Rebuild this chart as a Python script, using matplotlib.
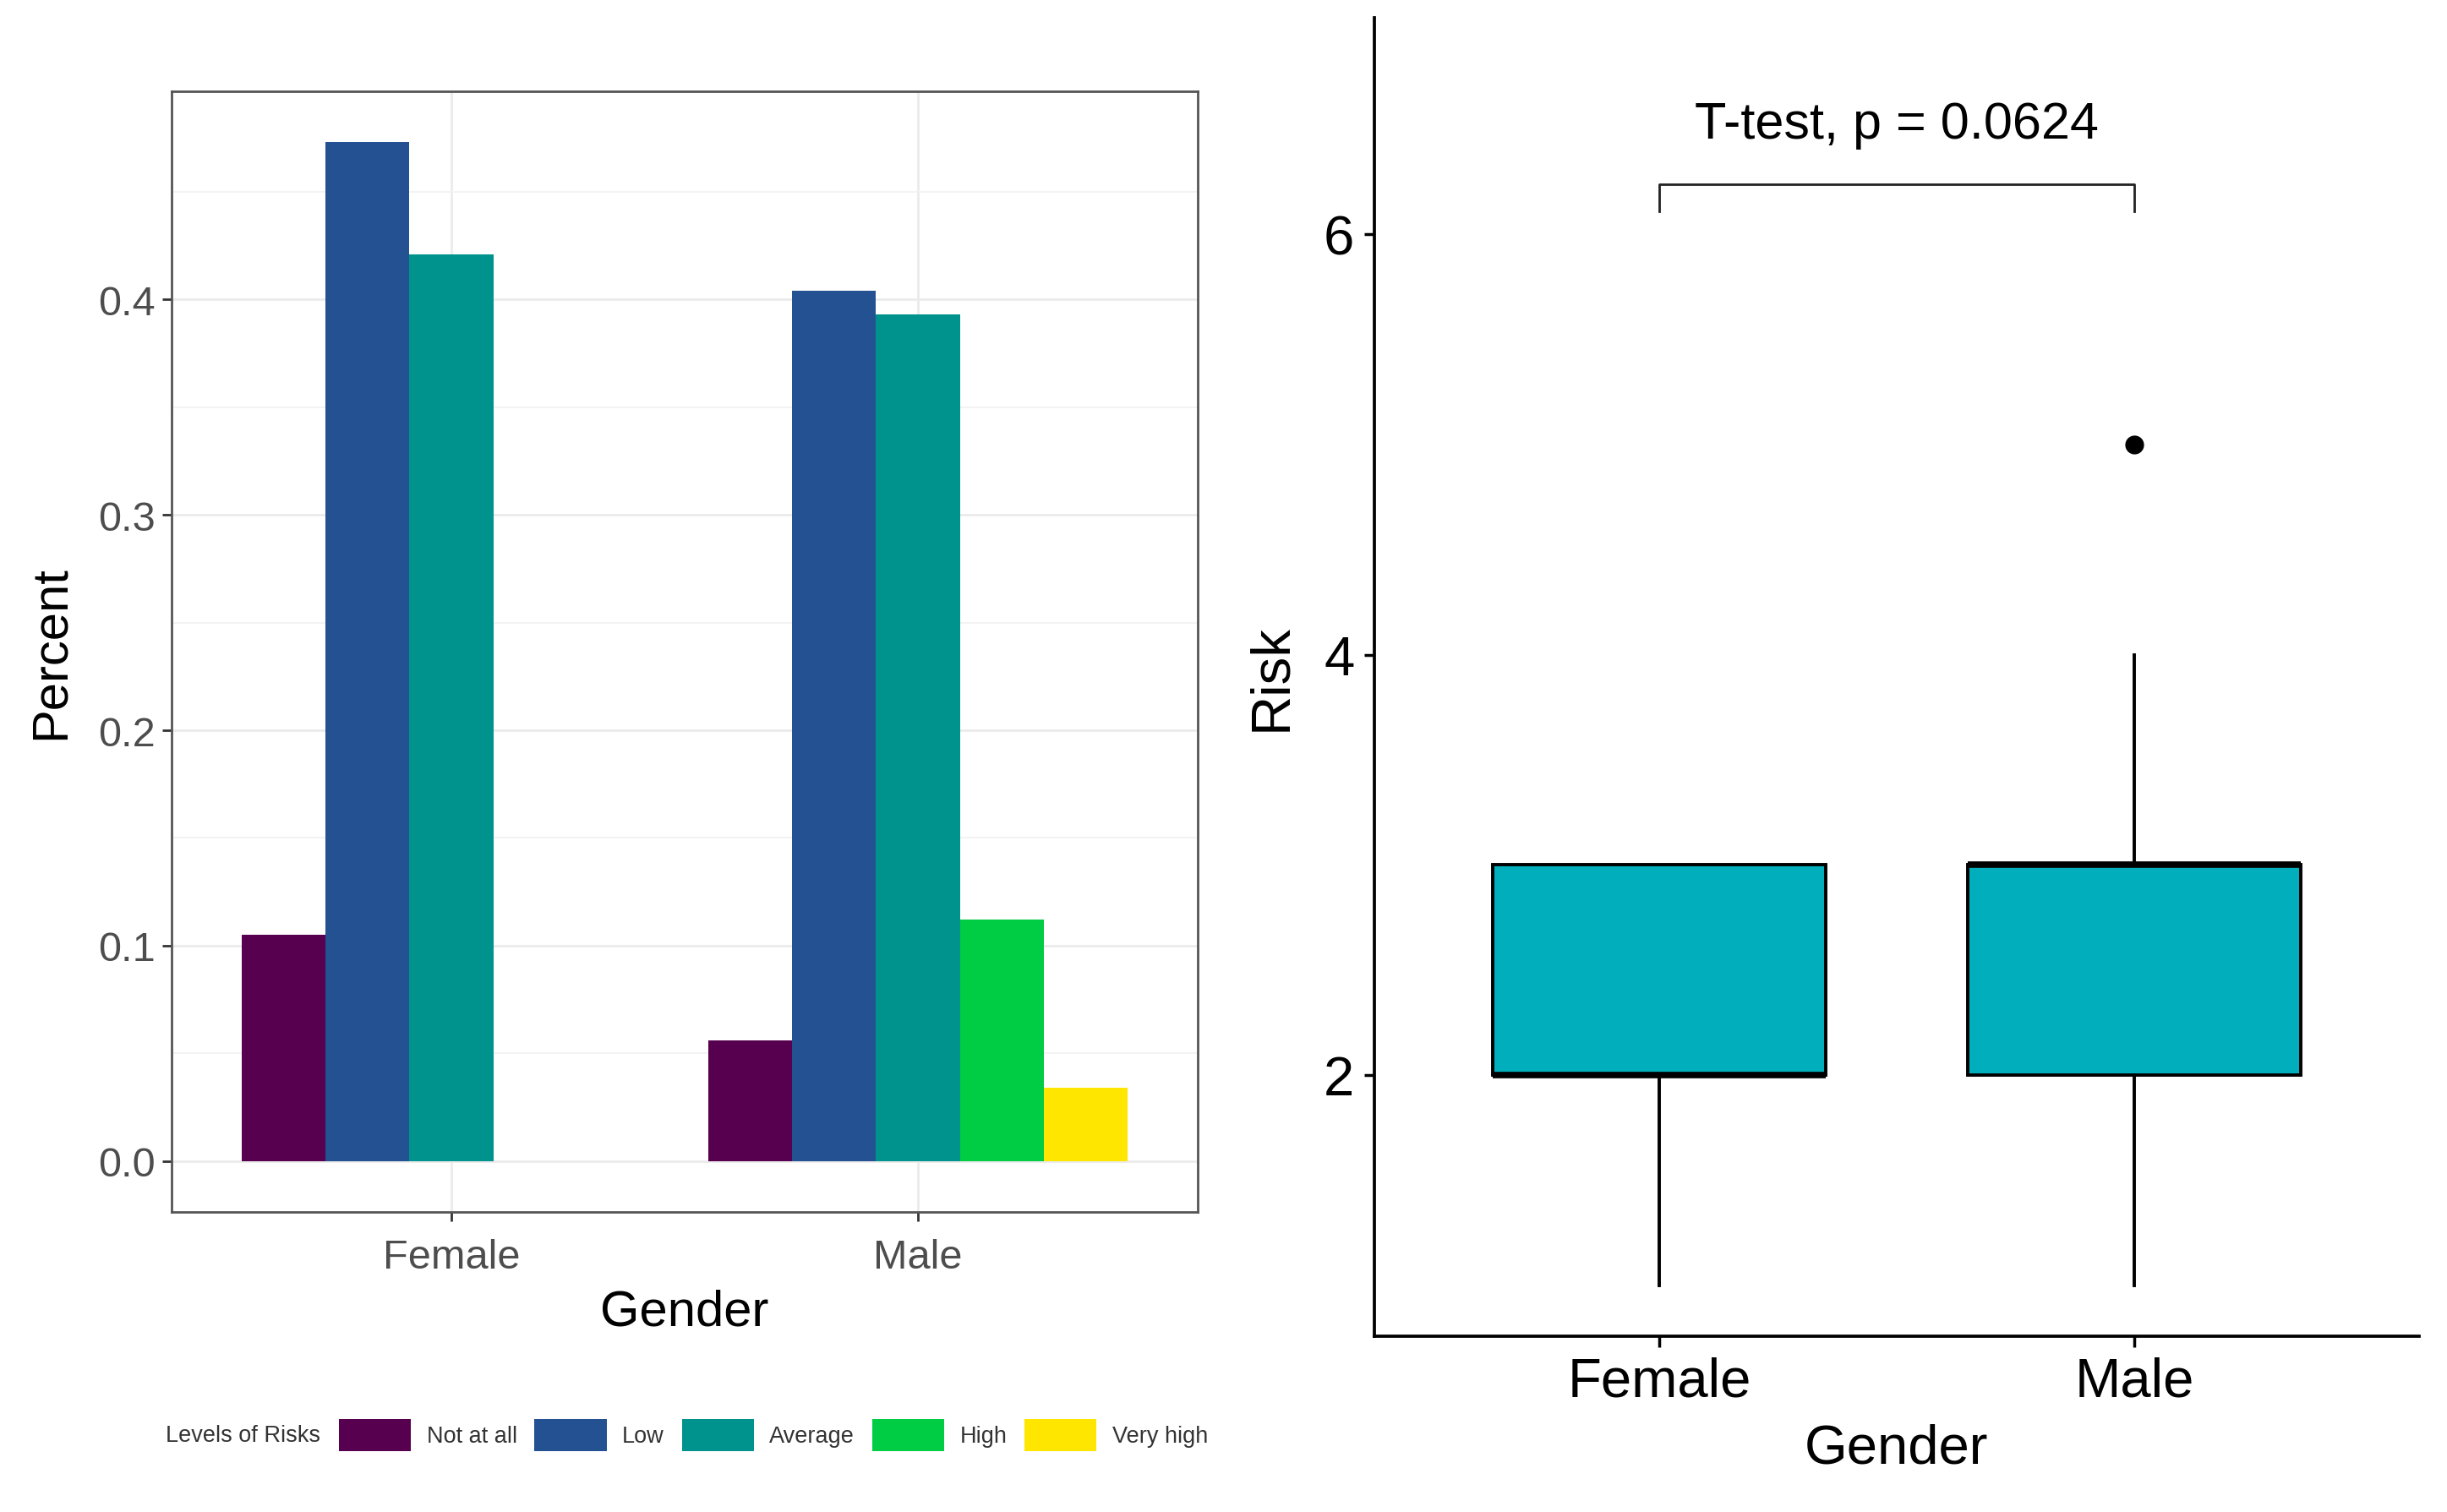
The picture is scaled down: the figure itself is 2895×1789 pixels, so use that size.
import numpy as np
import matplotlib.pyplot as plt
from matplotlib.patches import Patch

plt.rcParams['font.family'] = ['Liberation Sans', 'DejaVu Sans']

# left panel data: share of each risk level per gender
genders = ['Female', 'Male']
levels = ['Not at all', 'Low', 'Average', 'High', 'Very high']
colors = ['#570050', '#235191', '#00938E', '#00CC44', '#FFE600']
female_pct = [0.105, 0.473, 0.421, 0.0, 0.0]
male_pct = [0.056, 0.404, 0.393, 0.112, 0.034]

# right panel data: box summary of Risk per gender
box_whislo = [1, 1]
box_q1 = [2, 2]
box_med = [2, 3]
box_q3 = [3, 3]
box_whishi = [3, 4]
box_fliers = [[], [5]]
ttest_label = 'T-test, p = 0.0624'

W, H = 2895, 1790
fig = plt.figure(figsize=(W / 100, H / 100), dpi=100)

# ---------------- left: grouped bars ----------------
ax1 = fig.add_axes([203 / W, 1 - 1435 / H, 1214 / W, 1326 / H])
bw = 0.9 / len(levels)
xpos = np.arange(1, len(genders) + 1)
for i, lev in enumerate(levels):
    vals = [female_pct[i], male_pct[i]]
    for g, v in enumerate(vals):
        if v > 0:
            ax1.bar(xpos[g] + (i - 2) * bw, v, width=bw, color=colors[i],
                    linewidth=0, zorder=3)

ax1.set_xlim(0.4, 2.6)
ax1.set_ylim(-0.0237, 0.4967)
ax1.set_xticks(xpos)
ax1.set_xticklabels(genders)
ax1.set_yticks([0.0, 0.1, 0.2, 0.3, 0.4])
ax1.set_yticklabels(['0.0', '0.1', '0.2', '0.3', '0.4'])
ax1.set_yticks([0.05, 0.15, 0.25, 0.35, 0.45], minor=True)
ax1.grid(True, which='major', color='#EBEBEB', linewidth=2.0, zorder=0)
ax1.grid(True, which='minor', axis='y', color='#F2F2F2', linewidth=1.3, zorder=0)
ax1.set_axisbelow(True)
for s in ax1.spines.values():
    s.set_color('#555555')
    s.set_linewidth(2.0)
ax1.tick_params(axis='both', which='major', labelsize=35, labelcolor='#4D4D4D',
                color='#333333', length=8, width=2, pad=6)
ax1.tick_params(axis='x', which='major', pad=14)
ax1.tick_params(axis='both', which='minor', length=0)
ax1.set_xlabel('Gender', fontsize=43)
ax1.set_ylabel('Percent', fontsize=43)
ax1.xaxis.set_label_coords(0.5, -0.068)
ax1.yaxis.set_label_coords(-0.095, 0.5)

handles = [Patch(facecolor=c, edgecolor='none') for c in colors]
fig.legend(handles, levels, loc='center left', bbox_to_anchor=(401 / W, 0.051),
           ncol=5, frameon=False, fontsize=19.5, handlelength=3.15,
           handleheight=1.8, handletextpad=0.68, columnspacing=0.76,
           borderpad=0, borderaxespad=0, labelcolor='#333333')
fig.text(196 / W, 0.051, 'Levels of Risks', fontsize=19.5, color='#333333',
         ha='left', va='center')

# ---------------- right: boxplot ----------------
ax2 = fig.add_axes([1626 / W, 1 - 1582 / H, 1236 / W, 1560 / H])
stats = []
for i in range(len(genders)):
    stats.append(dict(whislo=box_whislo[i], q1=box_q1[i], med=box_med[i],
                      q3=box_q3[i], whishi=box_whishi[i], fliers=box_fliers[i]))
ax2.bxp(stats, positions=xpos, widths=0.7, patch_artist=True, showcaps=False,
        boxprops=dict(facecolor='#00AFBB', edgecolor='black', linewidth=2.8),
        medianprops=dict(color='black', linewidth=5.5),
        whiskerprops=dict(color='black', linewidth=2.8),
        flierprops=dict(marker='o', markerfacecolor='black',
                        markeredgecolor='black', markersize=15))

# comparison bracket
yb, yt = 6.237, 6.11
ax2.plot([1, 1, 2, 2], [yt, yb, yb, yt], color='#222222', linewidth=2.0)
ax2.text(1.5, 6.46, ttest_label, fontsize=44, ha='center', va='baseline')

ax2.set_xlim(0.4, 2.6)
ax2.set_ylim(0.757, 7.03)
ax2.set_xticks(xpos)
ax2.set_xticklabels(genders)
ax2.set_yticks([2, 4, 6])
ax2.spines['top'].set_visible(False)
ax2.spines['right'].set_visible(False)
for s in ['left', 'bottom']:
    ax2.spines[s].set_linewidth(2.7)
ax2.tick_params(axis='both', labelsize=47, length=9, width=2.5, pad=8)
ax2.set_xlabel('Gender', fontsize=47)
ax2.set_ylabel('Risk', fontsize=47)
ax2.xaxis.set_label_coords(0.5, -0.066)
ax2.yaxis.set_label_coords(-0.074, 0.5)

fig.savefig('out.png', dpi=100, facecolor='white')
